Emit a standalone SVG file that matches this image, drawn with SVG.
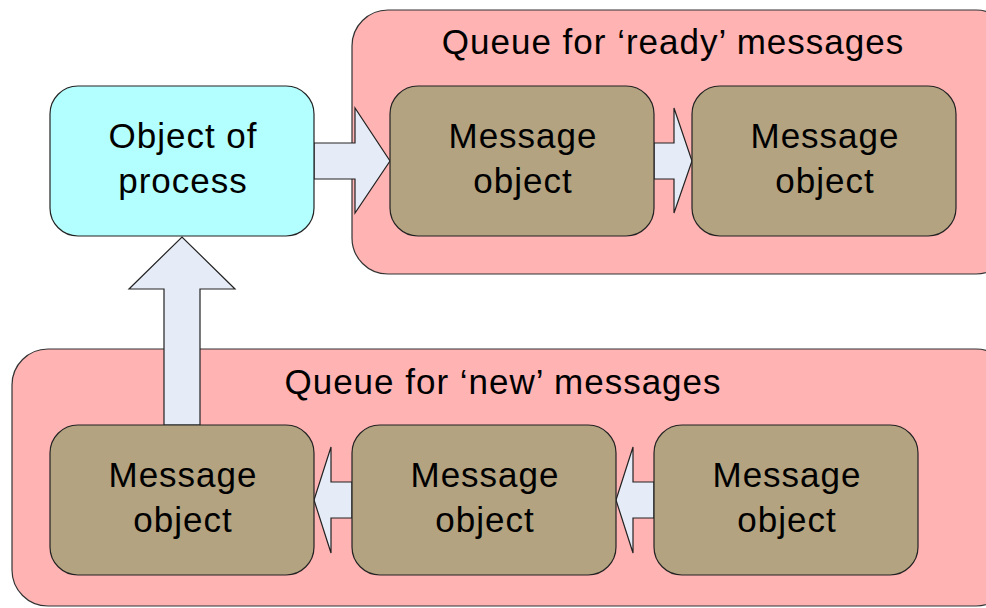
<svg xmlns="http://www.w3.org/2000/svg" width="986" height="608" viewBox="0 0 986 608">
  <style>
    .queue { fill: #FFB3B3; stroke: #333; stroke-width: 1.2; }
    .msg { fill: #B3A380; stroke: #222; stroke-width: 1.2; }
    .proc { fill: #B3FFFF; stroke: #222; stroke-width: 1.2; }
    .arrow { fill: #E6ECF7; stroke: #222; stroke-width: 1.2; stroke-linejoin: miter; }
    text { font-family: "Liberation Sans", Arial, sans-serif; font-size: 35px; letter-spacing: 1px; fill: #000; text-anchor: middle; }
  </style>
  <rect width="986" height="608" fill="#fff"/>

  <!-- queue containers -->
  <g id="queue-ready">
    <rect class="queue" x="352" y="10" width="660" height="264" rx="36"/>
    <text x="673" y="54">Queue for ‘ready’ messages</text>
  </g>
  <g id="queue-new">
    <rect class="queue" x="12" y="349" width="1000" height="257" rx="36"/>
    <text x="503" y="394">Queue for ‘new’ messages</text>
  </g>

  <!-- connectors: block arrows -->
  <g id="connectors">
    <polygon class="arrow" points="314,143 355,143 355,108 390,161 355,213 355,179 314,179"/>
    <polygon class="arrow" points="654,143 674,143 674,108 692,161 674,213 674,179 654,179"/>
    <polygon class="arrow" points="164,425 164,289 129,289 182,237 235,289 200,289 200,425"/>
    <polygon class="arrow" points="352,482 331,482 331,447 314,500 331,553 331,518 352,518"/>
    <polygon class="arrow" points="654,482 633,482 633,447 616,500 633,553 633,518 654,518"/>
  </g>

  <g id="process">
    <rect class="proc" x="50" y="86" width="264" height="150" rx="28"/>
    <text x="183" y="148">Object of</text>
    <text x="183" y="193">process</text>
  </g>

  <g id="ready-1">
    <rect class="msg" x="390" y="86" width="264" height="150" rx="28"/>
    <text x="523" y="148">Message</text>
    <text x="523" y="193">object</text>
  </g>
  <g id="ready-2">
    <rect class="msg" x="692" y="86" width="264" height="150" rx="28"/>
    <text x="825" y="148">Message</text>
    <text x="825" y="193">object</text>
  </g>

  <g id="new-1">
    <rect class="msg" x="50" y="425" width="264" height="150" rx="28"/>
    <text x="183" y="487">Message</text>
    <text x="183" y="532">object</text>
  </g>
  <g id="new-2">
    <rect class="msg" x="352" y="425" width="264" height="150" rx="28"/>
    <text x="485" y="487">Message</text>
    <text x="485" y="532">object</text>
  </g>
  <g id="new-3">
    <rect class="msg" x="654" y="425" width="264" height="150" rx="28"/>
    <text x="787" y="487">Message</text>
    <text x="787" y="532">object</text>
  </g>
</svg>
